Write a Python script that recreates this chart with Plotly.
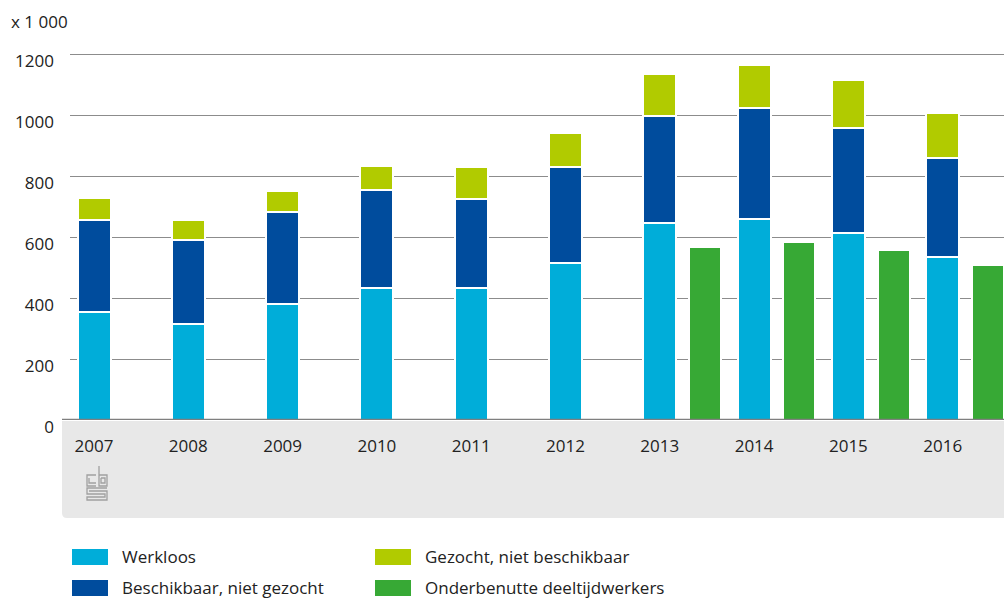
import plotly.graph_objects as go

# ---- data (x 1 000) ----
years = ["2007", "2008", "2009", "2010", "2011", "2012", "2013", "2014", "2015", "2016"]
werkloos = [353, 316, 380, 433, 433, 515, 646, 659, 613, 536]
beschikbaar_niet_gezocht = [304, 275, 303, 320, 293, 315, 352, 363, 344, 324]
gezocht_niet_beschikbaar = [71, 66, 67, 81, 104, 111, 135, 143, 159, 148]
deeltijd_years = ["2013", "2014", "2015", "2016"]
onderbenutte_deeltijdwerkers = [567, 582, 558, 509]
y_ticks = [0, 200, 400, 600, 800, 1000, 1200]

names = ["Werkloos", "Beschikbaar, niet gezocht", "Gezocht, niet beschikbaar", "Onderbenutte deeltijdwerkers"]
colors = ["#00ADD9", "#004C9D", "#B1CB00", "#37A935"]

# ---- layout geometry (pixels) ----
W, H = 1004, 599
L, R, T, B = 70, 0, 51, 179
PW, PH = W - L - R, H - T - B
Y_TOP = 1200 + 3 / 0.305


def px(x):
    return (x - L) / PW


def py(y):
    return (H - B - y) / PH


idx = list(range(len(years)))
green_x = [years.index(y) + 0.48 for y in deeltijd_years]

fig = go.Figure()
for vals, name, col in zip([werkloos, beschikbaar_niet_gezocht, gezocht_niet_beschikbaar], names[:3], colors[:3]):
    fig.add_trace(go.Bar(x=idx, y=vals, name=name, width=0.35,
                         marker=dict(color=col, line=dict(color="white", width=2))))
fig.add_trace(go.Bar(x=green_x, y=onderbenutte_deeltijdwerkers, name=names[3], width=0.34,
                     marker=dict(color=colors[3], line=dict(color="white", width=2))))

shapes = []
# grey band behind the category axis (rounded bottom-left corner)
x0, x1 = px(62), 1.0
yt, yb = py(421), py(518)
rx, ry = 5 / PW, 5 / PH
shapes.append(dict(type="path", xref="paper", yref="paper", layer="below",
                   path=f"M {x0},{yt} L {x1},{yt} L {x1},{yb} L {x0+rx},{yb} Q {x0},{yb} {x0},{yb+ry} Z",
                   fillcolor="#E8E8E8", line=dict(width=0)))
# baseline
shapes.append(dict(type="line", xref="paper", yref="y", x0=px(62), x1=1, y0=0, y1=0,
                   line=dict(color="#7F7F7F", width=2.5), layer="above"))

# CBS logo (approximate, light grey)
logo_col = "#A0A0A0"
def lp(points):
    return "M " + " L ".join(f"{px(a)},{py(b)}" for a, b in points)
shapes.append(dict(type="path", xref="paper", yref="paper", path=lp([(96, 475), (87, 475), (87, 486), (96, 486)]),
                   line=dict(color=logo_col, width=1.3)))
shapes.append(dict(type="path", xref="paper", yref="paper", path=lp([(89, 478), (89, 483), (96, 483)]),
                   line=dict(color=logo_col, width=1.3)))
shapes.append(dict(type="path", xref="paper", yref="paper", path=lp([(99, 466), (99, 486), (107, 486), (107, 475), (99, 475)]),
                   line=dict(color=logo_col, width=1.3)))
shapes.append(dict(type="path", xref="paper", yref="paper", path=lp([(101, 478), (105, 478), (105, 483), (101, 483), (101, 478)]),
                   line=dict(color=logo_col, width=1.3)))
shapes.append(dict(type="path", xref="paper", yref="paper",
                   path=lp([(107, 488), (87, 488), (87, 494), (105, 494), (105, 497), (87, 497), (87, 500), (107, 500), (107, 491), (89, 491)]),
                   line=dict(color=logo_col, width=1.3)))

annotations = [dict(text="x 1 000", xref="paper", yref="paper", x=px(9), y=py(22),
                    xanchor="left", yanchor="middle", showarrow=False, font=dict(size=17, color="#222"))]

# custom legend
legend_pos = [(72, 557), (72, 588), (375, 557), (375, 588)]
for (lx, ly), k in zip(legend_pos, range(4)):
    shapes.append(dict(type="rect", xref="paper", yref="paper", x0=px(lx), x1=px(lx + 36),
                       y0=py(ly - 8), y1=py(ly + 8), fillcolor=colors[k], line=dict(width=0)))
    annotations.append(dict(text=names[k], xref="paper", yref="paper", x=px(lx + 48), y=py(ly - 1),
                            xanchor="left", yanchor="middle", showarrow=False,
                            font=dict(size=17, color="#222")))

fig.update_layout(
    width=W, height=H, margin=dict(l=L, r=R, t=T, b=B),
    barmode="stack", showlegend=False,
    plot_bgcolor="white", paper_bgcolor="white",
    font=dict(family="Open Sans", size=17, color="#222"),
    shapes=shapes, annotations=annotations,
    xaxis=dict(tickmode="array", tickvals=idx, ticktext=years, range=[-0.2545, 9.65],
               showgrid=False, zeroline=False, showline=False, ticks="",
               ticklabelstandoff=14, fixedrange=True),
    yaxis=dict(tickmode="array", tickvals=y_ticks, ticktext=[str(v) for v in y_ticks], range=[0, Y_TOP],
               showgrid=True, gridcolor="#8C8C8C", gridwidth=1.2, zeroline=False, showline=False,
               ticks="", ticklabelstandoff=15, ticklabelshift=7, fixedrange=True),
)

fig.write_html("out.html", config={"displayModeBar": False},
               post_script="document.body.style.margin='0';document.body.style.overflow='hidden';")
